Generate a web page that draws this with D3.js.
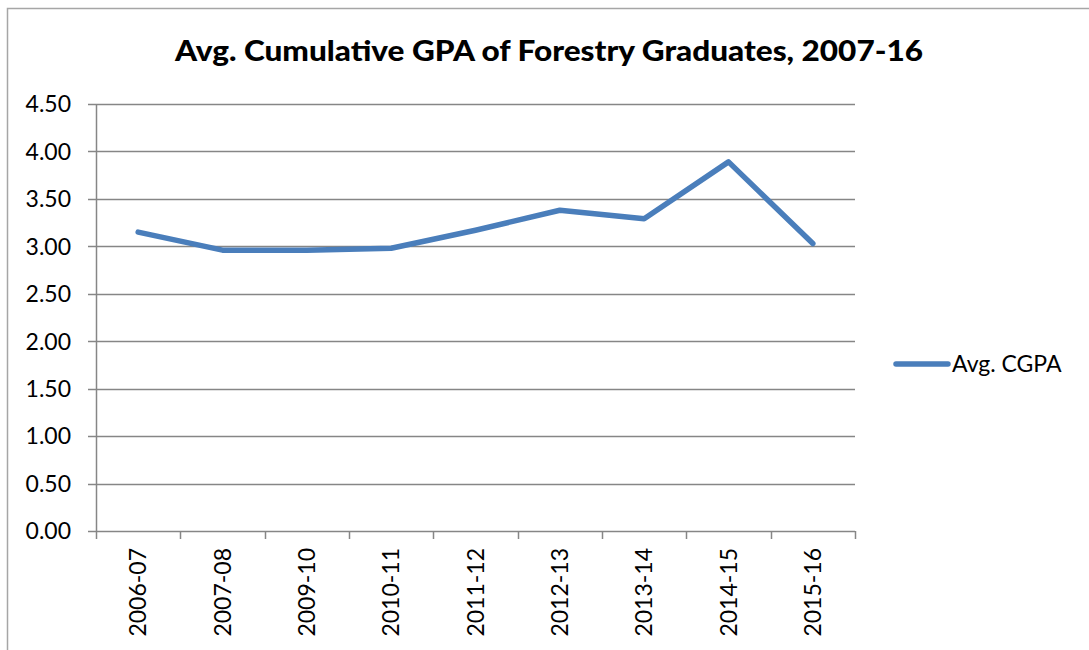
<!DOCTYPE html>
<meta charset="utf-8">
<head>
  <meta charset="utf-8">
  <script src="https://d3js.org/d3.v7.min.js"></script>
  <style>
    body { margin: 0; background: #fff; }
    text { font-family: Lato, "Open Sans", sans-serif; fill: #000; }
  </style>
</head>
<body>
  <svg width="1089" height="650"></svg>
  <script>
    // data
    var years = ["2006-07", "2007-08", "2009-10", "2010-11", "2011-12", "2012-13", "2013-14", "2014-15", "2015-16"];
    var cgpa = [3.15, 2.96, 2.96, 2.98, 3.17, 3.38, 3.29, 3.89, 3.03];
    var yTicks = [0, 0.5, 1, 1.5, 2, 2.5, 3, 3.5, 4, 4.5];
    var seriesName = "Avg. CGPA";
    var title = "Avg. Cumulative GPA of Forestry Graduates, 2007-16";

    var svg = d3.select("svg");
    var grey = "#868686";
    var blue = "#4a7ebb";

    // chart frame (only top + left show in the crop)
    svg.append("path")
      .attr("d", "M7.5,650 V8.5 H1089")
      .attr("fill", "none")
      .attr("stroke", "#a6a6a6")
      .attr("stroke-width", 1.5);

    svg.append("text")
      .attr("x", 549)
      .attr("y", 61)
      .attr("text-anchor", "middle")
      .style("font-size", "28px")
      .style("font-weight", "900")
      .attr("textLength", 748)
      .attr("lengthAdjust", "spacingAndGlyphs")
      .text(title);

    let margin = {top: 104, left: 96, right: 855, bottom: 531};
    var x = d3.scaleBand().domain(years).range([margin.left, margin.right]);
    var y = d3.scaleLinear().domain([0, 4.5]).range([margin.bottom, margin.top]);

    // gridlines
    svg.append("g")
      .selectAll("line")
      .data(yTicks)
      .enter()
      .append("line")
      .attr("x1", margin.left - 8)
      .attr("x2", margin.right)
      .attr("y1", function(d) { return Math.round(y(d)) + 0.5; })
      .attr("y2", function(d) { return Math.round(y(d)) + 0.5; })
      .attr("stroke", grey)
      .attr("stroke-width", 1.5);

    // y labels
    svg.append("g")
      .selectAll("text")
      .data(yTicks)
      .enter()
      .append("text")
      .attr("x", 71)
      .attr("y", function(d) { return y(d); })
      .attr("dy", "0.36em")
      .attr("text-anchor", "end")
      .style("font-size", "23px")
      .text(function(d) { return d3.format(".2f")(d); });

    // y axis line
    svg.append("line")
      .attr("x1", margin.left + 0.5).attr("x2", margin.left + 0.5)
      .attr("y1", margin.top).attr("y2", margin.bottom + 8)
      .attr("stroke", grey).attr("stroke-width", 1.5);

    // x ticks between categories
    var edges = years.map(function(d) { return x(d) + x.bandwidth(); });
    svg.append("g")
      .selectAll("line")
      .data(edges)
      .enter()
      .append("line")
      .attr("x1", function(d) { return Math.round(d) + 0.5; })
      .attr("x2", function(d) { return Math.round(d) + 0.5; })
      .attr("y1", margin.bottom)
      .attr("y2", margin.bottom + 8)
      .attr("stroke", grey)
      .attr("stroke-width", 1.5);

    // x labels, rotated
    svg.append("g")
      .selectAll("text")
      .data(years)
      .enter()
      .append("text")
      .attr("transform", function(d) {
        return "translate(" + (x(d) + x.bandwidth() / 2) + "," + 548 + ") rotate(-90)";
      })
      .attr("text-anchor", "end")
      .attr("dy", "0.36em")
      .style("font-size", "23px")
      .text(function(d) { return d; });

    // the series
    var line = d3.line()
      .x(function(d, i) { return x(years[i]) + x.bandwidth() / 2; })
      .y(function(d) { return y(d); });

    svg.append("path")
      .datum(cgpa)
      .attr("d", line)
      .attr("fill", "none")
      .attr("stroke", blue)
      .attr("stroke-width", 5.5)
      .attr("stroke-linejoin", "round")
      .attr("stroke-linecap", "round");

    // legend
    svg.append("line")
      .attr("x1", 896).attr("x2", 948)
      .attr("y1", 364).attr("y2", 364)
      .attr("stroke", blue)
      .attr("stroke-width", 5.5)
      .attr("stroke-linecap", "round");
    svg.append("text")
      .attr("x", 952)
      .attr("y", 364)
      .attr("dy", "0.36em")
      .style("font-size", "23px")
      .text(seriesName);
  </script>
</body>
</html>
